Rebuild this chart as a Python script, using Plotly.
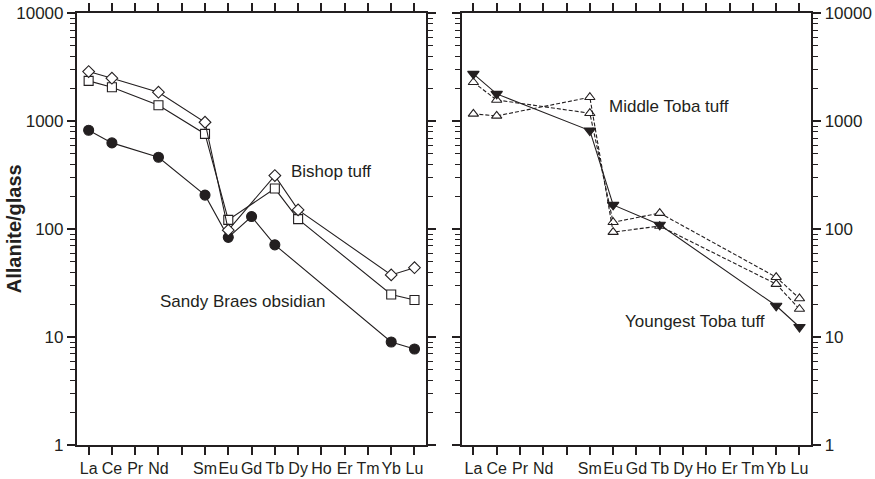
import plotly.graph_objects as go

# REE positions (Pm left blank)
ree_labels = ["La", "Ce", "Pr", "Nd", "", "Sm", "Eu", "Gd", "Tb", "Dy", "Ho", "Er", "Tm", "Yb", "Lu"]
ree_pos = list(range(1, 16))

# Left panel
bishop_diamond_x = [1, 2, 4, 6, 7, 9, 10, 14, 15]
bishop_diamond_y = [2890, 2510, 1860, 980, 98, 314, 151, 37.7, 44]
bishop_square_x = [1, 2, 4, 6, 7, 9, 10, 14, 15]
bishop_square_y = [2370, 2070, 1410, 764, 122, 238, 124, 24.8, 22.1]
sandy_x = [1, 2, 4, 6, 7, 8, 9, 14, 15]
sandy_y = [826, 631, 464, 207, 84, 131, 71.6, 9.0, 7.76]

# Right panel
youngest_x = [1, 2, 6, 7, 9, 14, 15]
youngest_y = [2750, 1795, 820, 168, 110, 19.5, 12.4]
middle_a_x = [1, 2, 6, 7, 9, 14, 15]
middle_a_y = [2300, 1577, 1188, 116, 141, 35.9, 22.8]
middle_b_x = [1, 2, 6, 7, 9, 14, 15]
middle_b_y = [1172, 1122, 1670, 94, 107, 31, 18.2]

y_major = [1, 10, 100, 1000, 10000]
y_major_text = ["1", "10", "100", "1000", "10000"]
y_minor = [m * d for d in [1, 10, 100, 1000] for m in range(2, 10)]

FONT = "Liberation Sans, Arial, Helvetica, sans-serif"
INK = "#231f20"
XDOM = {"x": [0.088, 0.487], "x2": [0.5277, 0.927]}
YDOM = [0.071, 0.972]

fig = go.Figure()

def add(x, y, xa, ya, symbol, fill, size, dash="solid"):
    fig.add_trace(go.Scatter(
        x=x, y=y, xaxis=xa, yaxis=ya, mode="lines+markers",
        line=dict(color=INK, width=1.1, dash=dash),
        marker=dict(symbol=symbol, size=size, color=fill,
                    line=dict(color=INK, width=1.1)),
        showlegend=False, cliponaxis=False))

add(sandy_x, sandy_y, "x", "y", "circle", INK, 10)
add(bishop_square_x, bishop_square_y, "x", "y", "square", "white", 9)
add(bishop_diamond_x, bishop_diamond_y, "x", "y", "diamond", "white", 9)

add(middle_a_x, middle_a_y, "x2", "y2", "triangle-up", "white", 9, dash="4px,2px")
add(middle_b_x, middle_b_y, "x2", "y2", "triangle-up", "white", 9, dash="4px,2px")
add(youngest_x, youngest_y, "x2", "y2", "triangle-down", INK, 10)

def xaxis(domain, anchor):
    return dict(domain=domain, anchor=anchor, range=[0.5, 15.5], automargin=False,
                tickmode="array", tickvals=ree_pos, ticktext=ree_labels, tickangle=0,
                ticks="outside", ticklen=8, tickwidth=1.5, tickcolor=INK,
                showline=True, linecolor=INK, linewidth=2.2, mirror="ticks",
                showgrid=False, zeroline=False,
                tickfont=dict(family=FONT, size=16, color=INK))

def yaxis(anchor, side):
    return dict(domain=YDOM, anchor=anchor, side=side, type="log", automargin=False,
                range=[0, 4], tickmode="array", tickvals=y_major, ticktext=y_major_text,
                ticks="outside", ticklen=8, tickwidth=1.5, tickcolor=INK,
                minor=dict(tickmode="array", tickvals=y_minor, ticks="outside",
                           ticklen=5, tickwidth=1.3, tickcolor=INK, showgrid=False),
                showline=True, linecolor=INK, linewidth=2.2, mirror="ticks",
                showgrid=False, zeroline=False,
                tickfont=dict(family=FONT, size=17, color=INK))

fig.update_layout(
    width=875, height=479,
    margin=dict(l=0, r=0, t=0, b=0),
    paper_bgcolor="white", plot_bgcolor="white",
    xaxis=xaxis(XDOM["x"], "y"),
    yaxis=yaxis("x", "left"),
    xaxis2=xaxis(XDOM["x2"], "y2"),
    yaxis2=yaxis("x2", "right"),
    font=dict(family=FONT, color=INK),
)

def label(text, x, y, xr, yr):
    fig.add_annotation(text=text, x=x, y=y, xref=xr, yref=yr, showarrow=False,
                       font=dict(family=FONT, size=17, color=INK),
                       xanchor="center", yanchor="middle")

label("Bishop tuff", 11.43, 2.531, "x", "y")
label("Sandy Braes obsidian", 7.59, 1.329, "x", "y")
label("Middle Toba tuff", 9.39, 3.136, "x2", "y2")
label("Youngest Toba tuff", 10.52, 1.144, "x2", "y2")

fig.add_annotation(text="<b>Allanite/glass</b>", x=14 / 875, y=0.5215, xref="paper", yref="paper",
                   showarrow=False, textangle=-90, xanchor="center", yanchor="middle",
                   font=dict(family=FONT, size=20, color=INK))

fig.write_html("out.html")
